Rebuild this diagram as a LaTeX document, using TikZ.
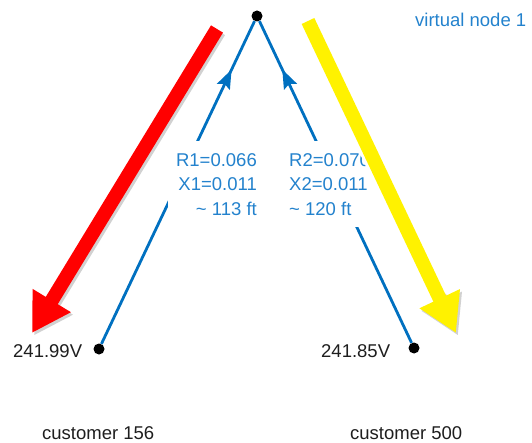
\documentclass[tikz,border=0pt]{standalone}
\usepackage{fontspec}
\setmainfont{Liberation Sans}
\usetikzlibrary{arrows.meta,decorations.markings}
\definecolor{lineblue}{RGB}{0,112,192}
\definecolor{textblue}{RGB}{35,130,205}
\definecolor{txtgray}{RGB}{30,30,30}
\begin{document}
\begin{tikzpicture}[x=1pt,y=-1pt,
  dot/.style={circle,fill=black,inner sep=0pt,minimum size=11pt},
  feeder/.style={draw=lineblue,line width=2.8pt,postaction={decorate},
    decoration={markings,mark=at position 0.85 with {\arrow{Stealth[length=19pt,width=14pt,inset=3pt]}}}},
  lbl/.style={font=\fontsize{18.5}{24.5}\selectfont,text=textblue,fill=white,inner xsep=8pt,inner ysep=12pt},
  txt/.style={font=\fontsize{18.5}{22}\selectfont,inner sep=0pt},
  bigarrow/.style={line width=14pt,-{Triangle[length=38pt,width=42pt]}},
  shadowarrow/.style={bigarrow,draw=black,opacity=0.18}
]
\useasboundingbox (0,0) rectangle (532,443);
% nodes
\node[dot] (top) at (257,16) {};
\node[dot] (c1) at (99,349) {};
\node[dot] (c2) at (414,348) {};
% feeders
\draw[feeder] (c1) -- (top);
\draw[feeder] (c2) -- (top);
% impedance labels
\node[lbl,anchor=north east,align=right] (z1) at (265,141) {R1=0.066\\X1=0.011\\\textasciitilde{} 113 ft};
\node[lbl,anchor=north west,align=left] (z2) at (281,141) {R2=0.070\\X2=0.011\\\textasciitilde{} 120 ft};
% texts
\node[txt,anchor=base west,text=txtgray] (v1) at (13,357) {241.99V};
\node[txt,anchor=base west,text=txtgray] (v2) at (321,357) {241.85V};
\node[txt,anchor=base west,text=txtgray] (n1) at (42,439) {customer 156};
\node[txt,anchor=base west,text=txtgray] (n2) at (350,439) {customer 500};
\node[txt,anchor=base west,text=textblue] (vn) at (415,27) {virtual node 1};
% big arrows
\coordinate (ra) at (217,29);
\coordinate (rb) at (32,333);
\coordinate (ya) at (308,21);
\coordinate (yb) at (456,333);
\draw[shadowarrow] ([shift={(2,2.5)}]ra) -- ([shift={(2,2.5)}]rb);
\draw[shadowarrow] ([shift={(2,2.5)}]ya) -- ([shift={(2,2.5)}]yb);
\draw[white,line width=20pt,shorten >=40pt] (ya) -- (yb);
\draw[bigarrow,draw=red,fill=red] (ra) -- (rb);
\draw[bigarrow,draw=yellow,fill=yellow] (ya) -- (yb);
\end{tikzpicture}
\end{document}
